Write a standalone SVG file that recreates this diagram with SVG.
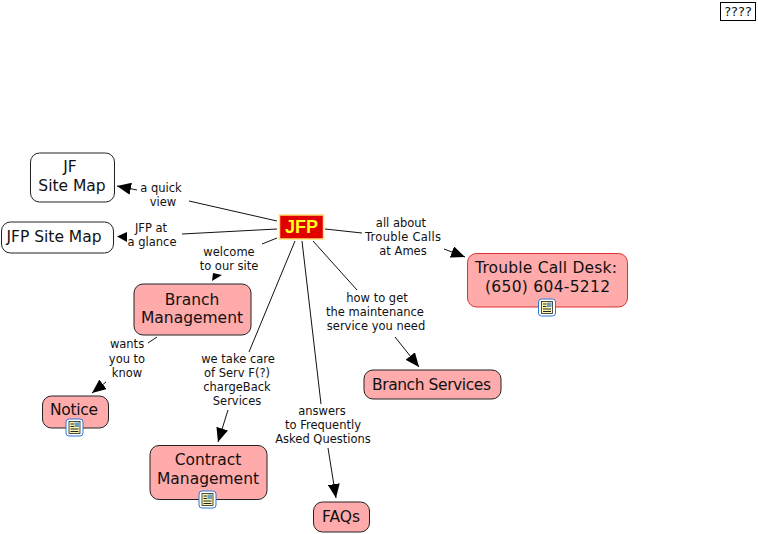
<svg xmlns="http://www.w3.org/2000/svg" width="758" height="534" viewBox="0 0 758 534">
<style>
text{font-family:"DejaVu Sans","Noto Sans",sans-serif;text-anchor:middle;fill:#111}
.n{font-size:15.5px}
.l{font-size:11.5px}
.w{fill:#fff;stroke:#222;stroke-width:1}
.p{fill:#ffabab;stroke:#222;stroke-width:1}
.c line{stroke:#111;stroke-width:1;fill:none}
.a{marker-end:url(#ah)}
</style>
<defs>
<marker id="ah" markerUnits="userSpaceOnUse" markerWidth="15" markerHeight="12" refX="14" refY="6" orient="auto">
<path d="M0 0L14 6L0 12Z" fill="#000"/>
</marker>
<g id="icon">
<rect x="0" y="0" width="17" height="17" rx="3" fill="#fff" stroke="#2f74d8" stroke-width="1"/>
<rect x="3" y="2.500" width="11" height="12" fill="#fbf6b0" stroke="#222" stroke-width=".8"/>
<rect x="8.500" y="3.500" width="4.500" height="4.500" fill="#6f9fc0"/>
<path d="M4.500 5H8M4.500 7.500H8M4.500 10H12.500M4.500 12.500H12.500" stroke="#222" stroke-width="1"/>
</g>
</defs>
<g id="connectors" class="c">
<line x1="277" y1="221" x2="189" y2="201"/>
<line class="a" x1="137" y1="190" x2="117" y2="186"/>
<line x1="277" y1="229" x2="182" y2="234"/>
<path d="M117 236.500L127 232L127 242Z" fill="#000"/>
<line x1="277" y1="238" x2="262" y2="244"/>
<path d="M212 281L213 273L222 275Z" fill="#000"/>
<line x1="157" y1="337" x2="148" y2="343"/>
<line class="a" x1="106" y1="382" x2="92" y2="393"/>
<line x1="295" y1="241" x2="249" y2="352"/>
<line class="a" x1="228" y1="410" x2="218" y2="442"/>
<line x1="302" y1="241" x2="321" y2="404"/>
<line class="a" x1="328" y1="448" x2="336" y2="498"/>
<line x1="313" y1="241" x2="357" y2="290"/>
<line class="a" x1="395" y1="337" x2="419" y2="367"/>
<line x1="325" y1="229" x2="362" y2="233"/>
<line class="a" x1="444" y1="249" x2="465" y2="257"/>
</g>
<g id="labels" class="l">
<text class="l" x="161" y="192">a quick</text><text class="l" x="163" y="206">view</text>
<text class="l" x="151" y="232">JFP at</text><text class="l" x="152" y="246">a glance</text>
<text class="l" x="229" y="256">welcome</text><text class="l" x="229" y="270">to our site</text>
<text class="l" x="127" y="348">wants</text><text class="l" x="127" y="363">you to</text><text class="l" x="127" y="377">know</text>
<text class="l" x="238" y="363">we take care</text><text class="l" x="237" y="377">of Serv F(?)</text><text class="l" x="237" y="391">chargeBack</text><text class="l" x="237" y="405">Services</text>
<text class="l" x="322" y="415">answers</text><text class="l" x="323" y="429">to Frequently</text><text class="l" x="323" y="443">Asked Questions</text>
<text class="l" x="377" y="302">how to get</text><text class="l" x="375" y="316">the maintenance</text><text class="l" x="376" y="330">service you need</text>
<text class="l" x="401" y="227">all about</text><text class="l" x="403" y="241" textLength="76">Trouble Calls</text><text class="l" x="403" y="255">at Ames</text>
</g>
<g id="top"><rect x="720.500" y="2.500" width="35" height="18" fill="#fff" stroke="#000"/><text x="738" y="16" style="font-size:13px">????</text></g>
<g id="jf-site-map"><rect class="w" x="30.500" y="153" width="84" height="49" rx="9"/><text class="n" x="70" y="172">JF</text><text class="n" x="72" y="191">Site Map</text></g>
<g id="jfp-site-map"><rect class="w" x="1.500" y="222" width="112" height="31" rx="9"/><text class="n" x="54" y="242">JFP Site Map</text></g>
<g id="jfp"><rect x="279.500" y="215" width="44" height="24" fill="#e00000" stroke="#ffe070" stroke-width="1.500"/><text x="301.500" y="233" style="font-family:'Liberation Sans',Arial,sans-serif;font-size:18px;font-weight:bold;fill:#ffff20">JFP</text></g>
<g id="branch-management"><rect class="p" x="134" y="284" width="117" height="51" rx="9"/><text class="n" x="192" y="305">Branch</text><text class="n" x="192" y="323">Management</text></g>
<g id="notice"><rect class="p" x="42.500" y="396" width="66" height="32" rx="9"/><text class="n" x="74" y="415" textLength="48">Notice</text><use href="#icon" x="66" y="419"/></g>
<g id="contract-management"><rect class="p" x="150" y="445.500" width="117" height="54" rx="9"/><text class="n" x="208" y="465">Contract</text><text class="n" x="208" y="484">Management</text><use href="#icon" x="199" y="491"/></g>
<g id="faqs"><rect class="p" x="313.500" y="502" width="56" height="30" rx="9"/><text class="n" x="341" y="522">FAQs</text></g>
<g id="branch-services"><rect class="p" x="364" y="370" width="137" height="29" rx="9"/><text class="n" x="431.500" y="390" textLength="119">Branch Services</text></g>
<g id="trouble-call-desk"><rect class="p" style="stroke:#e03030" x="467.500" y="253.500" width="160" height="53.500" rx="9"/><text class="n" x="546" y="273" textLength="142">Trouble Call Desk:</text><text class="n" x="547.500" y="292" textLength="125">(650) 604-5212</text><use href="#icon" x="538.500" y="299"/></g>
</svg>
